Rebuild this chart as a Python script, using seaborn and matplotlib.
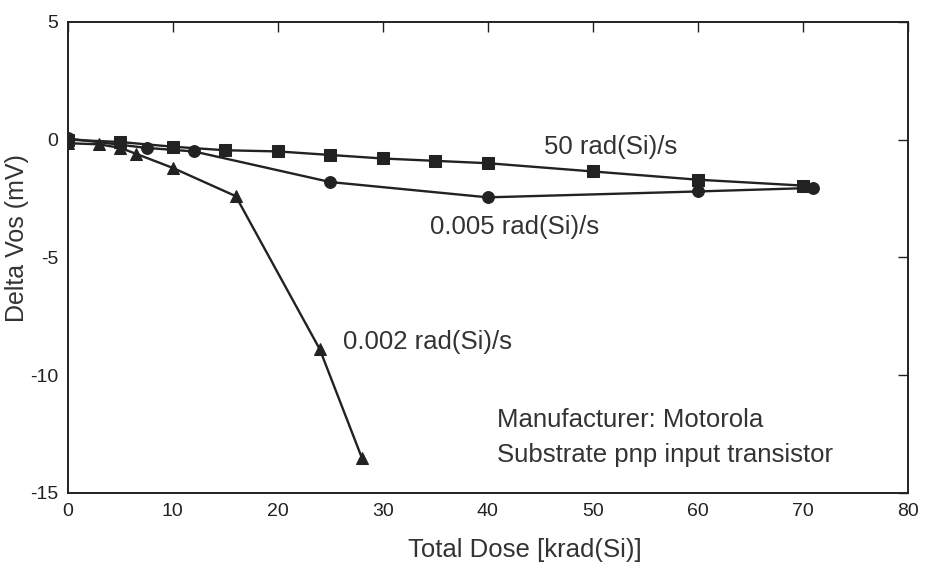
import matplotlib
matplotlib.use("Agg")
import matplotlib.pyplot as plt
import seaborn as sns
import pandas as pd

# dose (krad(Si)) and delta Vos (mV)
dose_50 = [0, 5, 10, 15, 20, 25, 30, 35, 40, 50, 60, 70]
vos_50 = [0, -0.1, -0.3, -0.45, -0.5, -0.65, -0.8, -0.9, -1.0, -1.35, -1.7, -1.95]

dose_005 = [0, 7.5, 12, 25, 40, 60, 71]
vos_005 = [0.05, -0.35, -0.5, -1.8, -2.45, -2.2, -2.05]

dose_002 = [0, 3, 5, 6.5, 10, 16, 24, 28]
vos_002 = [-0.15, -0.2, -0.35, -0.6, -1.2, -2.4, -8.9, -13.5]

sns.set_style("white")
plt.rcParams['font.family'] = ['Liberation Sans', 'DejaVu Sans']
plt.rcParams['axes.unicode_minus'] = False

fig = plt.figure(figsize=(9.29, 5.62), dpi=100)
ax = fig.add_axes([0.073, 0.123, 0.904, 0.838])

series = [
    (dose_50, vos_50, "s"),
    (dose_005, vos_005, "o"),
    (dose_002, vos_002, "^"),
]
for x, y, m in series:
    df = pd.DataFrame({"dose": x, "vos": y})
    sns.lineplot(data=df, x="dose", y="vos", ax=ax, color="#222222", lw=1.7,
                 marker=m, markersize=8.5, markeredgecolor="#222222", sort=False)

ax.set_xlim(0, 80)
ax.set_ylim(-15, 5)
ax.set_xticks(range(0, 81, 10))
ax.set_yticks(range(-15, 6, 5))
ax.tick_params(direction="in", length=7, width=1, colors="#222222", labelsize=14,
               top=True, right=True, labeltop=False, labelright=False, pad=7)
for s in ax.spines.values():
    s.set_color("#222222")
    s.set_linewidth(1.4)

ax.set_xlabel("Total Dose [krad(Si)]", fontsize=18.5, color="#333333")
ax.set_ylabel("Delta Vos (mV)", fontsize=18, color="#333333")
ax.xaxis.set_label_coords(0.544, -0.095)
ax.yaxis.set_label_coords(-0.046, 0.54)

txt = dict(fontsize=18.5, color="#333333", va="center", ha="left")
ax.text(45.4, -0.3, "50 rad(Si)/s", **txt)
ax.text(34.5, -3.7, "0.005 rad(Si)/s", **txt)
ax.text(26.2, -8.6, "0.002 rad(Si)/s", **txt)
ax.text(40.9, -11.9, "Manufacturer: Motorola", **txt)
ax.text(40.9, -13.4, "Substrate pnp input transistor", **txt)

fig.savefig("out.png", dpi=100)
